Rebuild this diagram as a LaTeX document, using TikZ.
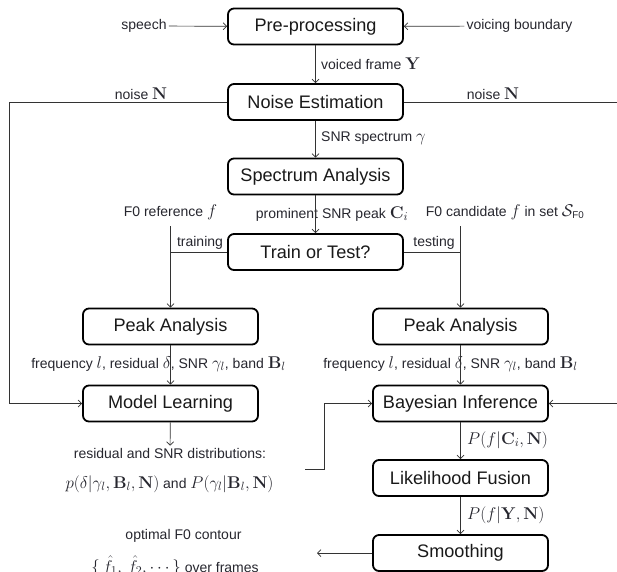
\RequirePackage{fix-cm}
\documentclass[tikz,border=0pt]{standalone}
\usepackage{amsmath}
\usepackage[no-math]{fontspec}
\setmainfont{Liberation Sans}[Scale=0.824]
\usetikzlibrary{calc,arrows.meta}
\definecolor{txt}{HTML}{26262E}
\definecolor{ln}{HTML}{333333}
\tikzset{
  box/.style={draw=black, line width=1.8pt, rounded corners=6pt, minimum width=175pt, minimum height=36pt, inner sep=0pt, font=\fontsize{22}{24}\selectfont, text=black!90},
  lbl/.style={font=\fontsize{17}{18}\selectfont, text=txt, inner sep=2pt},
  conn/.style={draw=ln, line width=0.7pt},
  arr/.style={conn, -{Straight Barb[length=3.5pt,width=7pt]}}
}
\begin{document}
\begin{tikzpicture}[x=1pt,y=-1pt]
\useasboundingbox (0,0) rectangle (617,571);
\begin{scope}
\clip (0,0) rectangle (617,571);
% boxes
\node[box] (pre) at (315.5,26.5) {Pre-processing};
\node[box] (ne)  at (315.5,102) {Noise Estimation};
\node[box] (sa)  at (315.5,176.5) {Spectrum Analysis};
\node[box] (tt)  at (315.5,252) {Train or Test?};
\node[box] (pl)  at (170.5,326.5) {Peak Analysis};
\node[box] (pr)  at (460.5,326.5) {Peak Analysis};
\node[box] (ml)  at (170.5,403.5) {Model Learning};
\node[box] (bi)  at (460.5,403.5) {Bayesian Inference};
\node[box] (lf)  at (460.5,478) {Likelihood Fusion};
\node[box] (sm)  at (460.5,553) {Smoothing};
% labels
\node[lbl] (speech) at (144,26) {speech};
\node[lbl] (voicing) at (519.5,26) {voicing boundary};
\node[lbl, anchor=west] (vf) at (319,64) {voiced frame $\mathbf{Y}$};
\node[lbl] (nl) at (141,94) {noise $\mathbf{N}$};
\node[lbl] (nr) at (493,94) {noise $\mathbf{N}$};
\node[lbl, anchor=west] (snr) at (319,138) {SNR spectrum $\gamma$};
\node[lbl] (f0r) at (170.5,212) {F0 reference $f$};
\node[lbl] (psp) at (332,214) {prominent SNR peak $\mathbf{C}_i$};
\node[lbl] (f0c) at (505,212) {F0 candidate $f$ in set $\mathcal{S}_{\text{F0}}$};
\node[lbl] (trn) at (200,243) {training};
\node[lbl] (tst) at (434,243) {testing};
\node[lbl] (frl) at (158.5,364) {frequency $l$, residual $\delta$, SNR $\gamma_l$, band $\mathbf{B}_l$};
\node[lbl] (frr) at (450.5,364) {frequency $l$, residual $\delta$, SNR $\gamma_l$, band $\mathbf{B}_l$};
\node[lbl, anchor=west] (pc) at (465,440) {$P(f|\mathbf{C}_i,\mathbf{N})$};
\node[lbl, anchor=west] (py) at (465,515) {$P(f|\mathbf{Y},\mathbf{N})$};
\node[lbl] (dist) at (170,453) {residual and SNR distributions:};
\node[lbl] (dist2) at (169.5,484) {$p(\delta|\gamma_l,\mathbf{B}_l,\mathbf{N})$ and $P(\gamma_l|\mathbf{B}_l,\mathbf{N})$};
\node[lbl] (opt) at (183.5,536) {optimal F0 contour};
\node[lbl] (opt2) at (175,566) {$\{\,\hat{f}_1,\,\hat{f}_2,\cdots\}$ over frames};
% coordinates
\coordinate (L) at (9,102);
\coordinate (R) at (630,102);
\coordinate (R2) at (630,403.5);
\coordinate (tl) at (170.5,226);
\coordinate (tr) at (460.5,226);
\coordinate (dq) at (305,469);
\coordinate (sk) at (324,469);
\coordinate (out) at (317,553);
% connectors
\draw[arr] (speech) -- (pre);
\draw[arr] (voicing) -- (pre);
\draw[arr] (pre) -- (ne);
\draw[arr] (ne) -- (sa);
\draw[arr] (sa) -- (tt);
\draw[arr] (ne.west) -- (L) |- (ml.west);
\draw[conn] (ne.east) -- (R);
\draw[arr] (R2) -- (bi.east);
\draw[conn] (tt.west) -- (tt.west -| tl);
\draw[arr] (tl) -- (pl.north);
\draw[conn] (tt.east) -- (tt.east -| tr);
\draw[arr] (tr) -- (pr.north);
\draw[arr] (pl) -- (ml);
\draw[arr] (pr) -- (bi);
\draw[arr] (bi) -- (lf);
\draw[arr] (lf) -- (sm);
\draw[arr] (ml) -- (dist);
\draw[arr] (dq) -- (sk) |- (bi.west);
\draw[arr] (sm.west) -- (out);
\end{scope}
\end{tikzpicture}
\end{document}
